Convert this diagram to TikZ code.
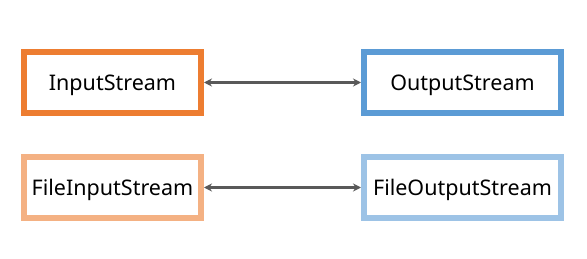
\documentclass[tikz,border=0pt]{standalone}
\usepackage{fontspec}
\setsansfont{Noto Sans}
\usetikzlibrary{arrows.meta,positioning}

\begin{document}
\begin{tikzpicture}[x=1pt, y=-1pt, >={Stealth[length=8pt,width=8pt]}, font=\sffamily\fontsize{21.5}{26}\selectfont,
    streambox/.style={draw, line width=6pt, fill=white, minimum height=61pt, text height=17pt, text depth=0pt},
    link/.style={<->, line width=2.5pt, draw=arrowgray}]
  \definecolor{inorange}{HTML}{ED7D31}
  \definecolor{outblue}{HTML}{5B9BD5}
  \definecolor{filein}{HTML}{F4B183}
  \definecolor{fileout}{HTML}{9DC3E6}
  \definecolor{arrowgray}{HTML}{595959}
  \useasboundingbox[fill=white] (0,0) rectangle (587,259);

  \node[streambox, draw=inorange, minimum width=177pt] (in) at (112.5,82.5) {InputStream};
  \node[streambox, draw=outblue, minimum width=197pt, right=157pt of in] (out) {OutputStream};
  \node[streambox, draw=filein, minimum width=177pt, below=38pt of in] (filein) {FileInputStream};
  \node[streambox, draw=fileout, minimum width=197pt, below=38pt of out] (fileout) {FileOutputStream};

  \draw[link] (in) -- (out);
  \draw[link] (filein) -- (fileout);
\end{tikzpicture}
\end{document}
